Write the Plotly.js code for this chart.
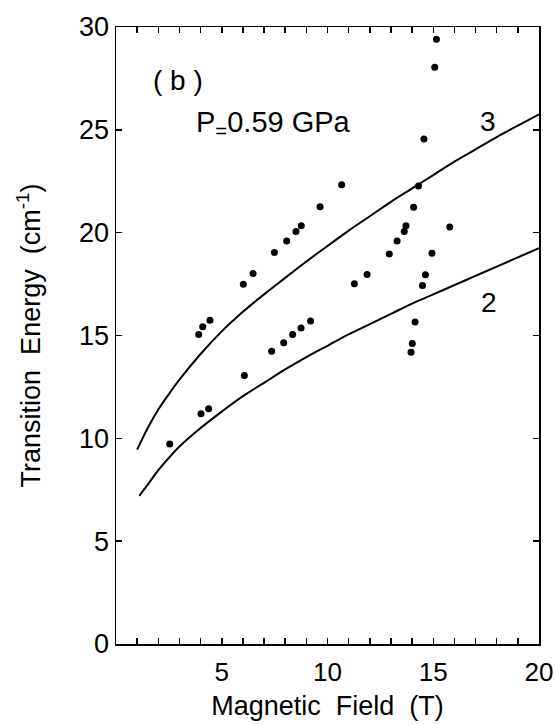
<!DOCTYPE html>
<html>
<head>
<meta charset="utf-8">
<script src="https://cdn.plot.ly/plotly-3.0.1.min.js"></script>
<style>html,body{margin:0;padding:0;background:#fff;}#chart{width:555px;height:724px;}</style>
</head>
<body>
<div id="chart"></div>
<script>
// Measured data points (Magnetic field in T, transition energy in cm^-1)
var pointsX = [2.54, 3.91, 4.10, 4.44, 4.02, 4.38, 6.02, 6.48, 6.07, 7.36, 7.49, 7.93, 8.07, 8.35, 8.51, 8.75, 8.76, 9.20, 9.65,
               10.67, 11.27, 11.87, 12.92, 13.29, 13.63, 13.71, 14.07, 14.30, 14.56, 15.07, 15.15, 14.94, 15.78, 14.63, 14.49, 14.14, 14.01, 13.95];
var pointsY = [9.72, 15.05, 15.42, 15.74, 11.20, 11.44, 17.49, 18.01, 13.06, 14.24, 19.03, 14.65, 19.60, 15.05, 20.06, 15.37, 20.34, 15.70, 21.26,
               22.33, 17.52, 17.96, 18.96, 19.60, 20.06, 20.34, 21.23, 22.27, 24.56, 28.04, 29.40, 19.00, 20.28, 17.95, 17.43, 15.66, 14.61, 14.19];

// Calculated curve "3"
var curve3X = [1.0, 1.5, 2.0, 2.5, 3.0, 4.0, 5.0, 6.0, 7.0, 8.0, 9.0, 10.0, 11.0, 12.0, 13.0, 14.0, 15.0, 16.0, 17.0, 18.0, 19.0, 20.0];
var curve3Y = [9.45, 10.5, 11.4, 12.15, 12.85, 14.1, 15.2, 16.15, 17.0, 17.8, 18.6, 19.35, 20.1, 20.8, 21.5, 22.15, 22.8, 23.45, 24.05, 24.65, 25.2, 25.75];

// Calculated curve "2"
var curve2X = [1.1, 1.5, 2.0, 2.5, 3.0, 4.0, 5.0, 6.0, 7.0, 8.0, 9.0, 10.0, 11.0, 12.0, 13.0, 14.0, 15.0, 16.0, 17.0, 18.0, 19.0, 20.0];
var curve2Y = [7.2, 7.75, 8.45, 9.05, 9.6, 10.5, 11.3, 12.05, 12.7, 13.35, 13.95, 14.5, 15.05, 15.55, 16.05, 16.55, 17.0, 17.45, 17.9, 18.35, 18.8, 19.25];

var xTickVals = [5, 10, 15, 20];
var xTickText = ['5', '10', '15', '20'];
var yTickVals = [0, 5, 10, 15, 20, 25, 30];
var yTickText = ['0', '5', '10', '15', '20', '25', '30'];

var FONT = 'Liberation Sans, Arial, Helvetica, sans-serif';

var traces = [
  {x: curve3X, y: curve3Y, mode: 'lines', line: {color: '#000', width: 2, shape: 'spline'}, hoverinfo: 'skip'},
  {x: curve2X, y: curve2Y, mode: 'lines', line: {color: '#000', width: 2, shape: 'spline'}, hoverinfo: 'skip'},
  {x: pointsX, y: pointsY, mode: 'markers', marker: {color: '#000', size: 7}}
];

var layout = {
  width: 555, height: 724,
  margin: {l: 116, r: 16, t: 27, b: 80},
  paper_bgcolor: '#fff', plot_bgcolor: '#fff',
  showlegend: false,
  font: {family: FONT, color: '#000'},
  xaxis: {
    range: [0, 20], showgrid: false, zeroline: false,
    showline: true, linecolor: '#000', linewidth: 1.5, mirror: 'ticks',
    ticks: 'inside', ticklen: 6, tickwidth: 1.5, tickcolor: '#000',
    tickvals: xTickVals, ticktext: xTickText,
    minor: {dtick: 1, tick0: 0, ticks: 'inside', ticklen: 6, tickwidth: 1.5, tickcolor: '#000', showgrid: false},
    tickfont: {size: 26, family: FONT},
    ticklabelstandoff: 4,
    title: {text: 'Magnetic\u00a0\u00a0Field\u00a0\u00a0(T)', font: {size: 27, family: FONT}, standoff: 10}
  },
  yaxis: {
    range: [0, 30], showgrid: false, zeroline: false,
    showline: true, linecolor: '#000', linewidth: 1.5, mirror: 'ticks',
    ticks: 'inside', ticklen: 6, tickwidth: 1.5, tickcolor: '#000',
    tickvals: yTickVals, ticktext: yTickText,
    tickfont: {size: 27, family: FONT},
    ticklabelstandoff: 0,
    title: {text: 'Transition\u00a0\u00a0Energy\u00a0\u00a0(cm<sup>-1</sup>)', font: {size: 27, family: FONT}, standoff: 30}
  },
  annotations: [
    {text: '(\u00a0b\u00a0)', x: 1.65, y: 27.4, xref: 'x', yref: 'y', xanchor: 'left', yanchor: 'middle', showarrow: false, font: {size: 28, family: FONT}},
    {text: 'P<sub>=</sub>0.59 GPa', x: 3.7, y: 25.3, xref: 'x', yref: 'y', xanchor: 'left', yanchor: 'middle', showarrow: false, font: {size: 29, family: FONT}},
    {text: '3', x: 17.6, y: 25.4, xref: 'x', yref: 'y', xanchor: 'center', yanchor: 'middle', showarrow: false, font: {size: 28, family: FONT}},
    {text: '2', x: 17.65, y: 16.6, xref: 'x', yref: 'y', xanchor: 'center', yanchor: 'middle', showarrow: false, font: {size: 28, family: FONT}}
  ]
};

Plotly.newPlot('chart', traces, layout, {staticPlot: true, displayModeBar: false});
</script>
</body>
</html>
